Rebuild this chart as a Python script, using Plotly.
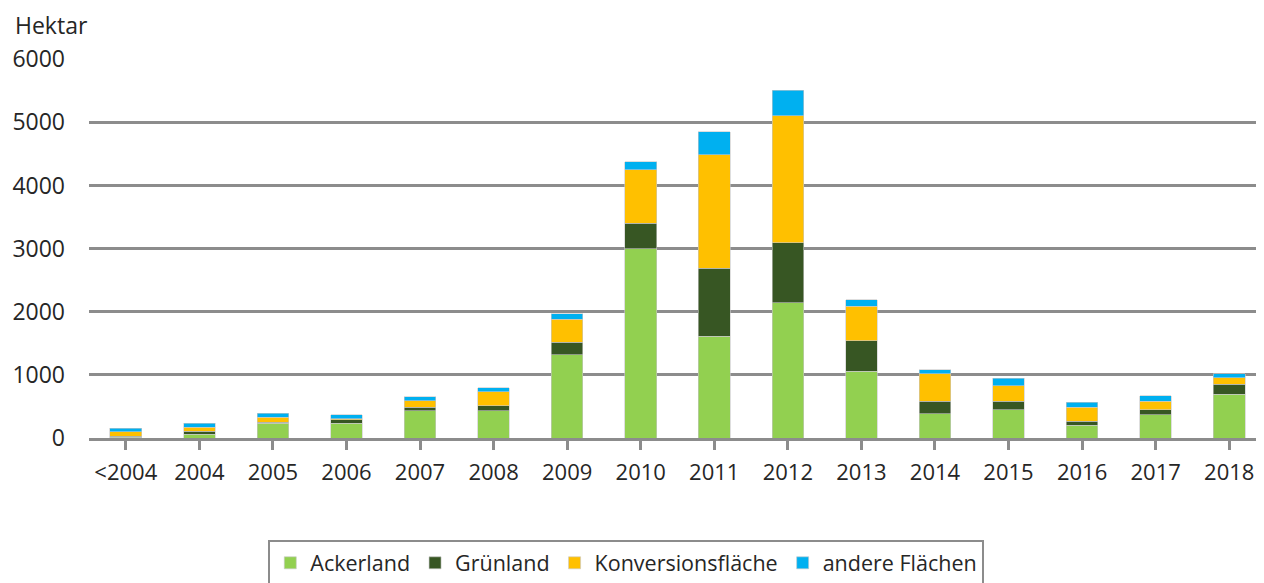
import plotly.graph_objects as go

categories = ["<2004", "2004", "2005", "2006", "2007", "2008", "2009", "2010",
              "2011", "2012", "2013", "2014", "2015", "2016", "2017", "2018"]
ackerland = [10, 60, 230, 230, 430, 430, 1320, 3000, 1610, 2140, 1055, 385, 445, 200, 365, 690]
gruenland = [15, 50, 20, 60, 60, 80, 200, 400, 1080, 950, 485, 200, 140, 65, 80, 165]
konversion = [75, 60, 75, 15, 100, 220, 365, 850, 1800, 2015, 550, 430, 245, 220, 140, 100]
andere = [55, 65, 65, 65, 65, 65, 85, 125, 365, 405, 100, 65, 120, 80, 85, 65]

series = [
    ("Ackerland", ackerland, "#92D050"),
    ("Grünland", gruenland, "#375623"),
    ("Konversionsfläche", konversion, "#FFC000"),
    ("andere Flächen", andere, "#00B0F0"),
]

FONT = "Open Sans"
TXT = "#262626"
fig = go.Figure()
for name, vals, col in series:
    fig.add_trace(go.Bar(
        x=list(range(len(categories))), y=vals, name=name,
        marker=dict(color=col, line=dict(color="#c8c8c8", width=0.6)),
    ))

# page has an 8px body margin: figure coords = page coords - 8
fig.update_layout(
    barmode="stack",
    bargap=0.57,
    width=1248, height=575,
    margin=dict(l=80.5, r=0, t=51, b=144.5, autoexpand=False),
    plot_bgcolor="white", paper_bgcolor="white",
    font=dict(family=FONT, size=22, color=TXT),
    showlegend=True,
    legend=dict(
        orientation="h", x=0.4604, xanchor="center", y=-0.27, yanchor="top",
        bordercolor="#8c8c8c", borderwidth=2,
        font=dict(family=FONT, size=21.5, color=TXT),
        itemwidth=30, traceorder="normal",
    ),
    xaxis=dict(
        range=[-0.5, 15.364], automargin=False,
        tickmode="array", tickvals=list(range(len(categories))), ticktext=categories,
        showline=True, linecolor="#8c8c8c", linewidth=2.5,
        ticks="outside", ticklen=9, tickwidth=2.5, tickcolor="#8c8c8c",
        tickson="boundaries", showgrid=False,
        ticklabelstandoff=4,
        tickfont=dict(family=FONT, size=22, color=TXT),
    ),
    yaxis=dict(
        range=[0, 6005], automargin=False,
        tickvals=[0, 1000, 2000, 3000, 4000, 5000, 6000],
        showgrid=True, gridcolor="#8c8c8c", gridwidth=2.5,
        zeroline=False, showline=False, ticks="",
        ticklabelstandoff=23,
        tickfont=dict(family=FONT, size=23, color=TXT),
    ),
    annotations=[dict(
        text="Hektar", xref="paper", yref="paper",
        x=-0.0655, y=(430.5 - 17) / 379.5,
        xanchor="left", yanchor="middle", showarrow=False,
        font=dict(family=FONT, size=23, color=TXT),
    )],
)

fig.write_html("out.html")
